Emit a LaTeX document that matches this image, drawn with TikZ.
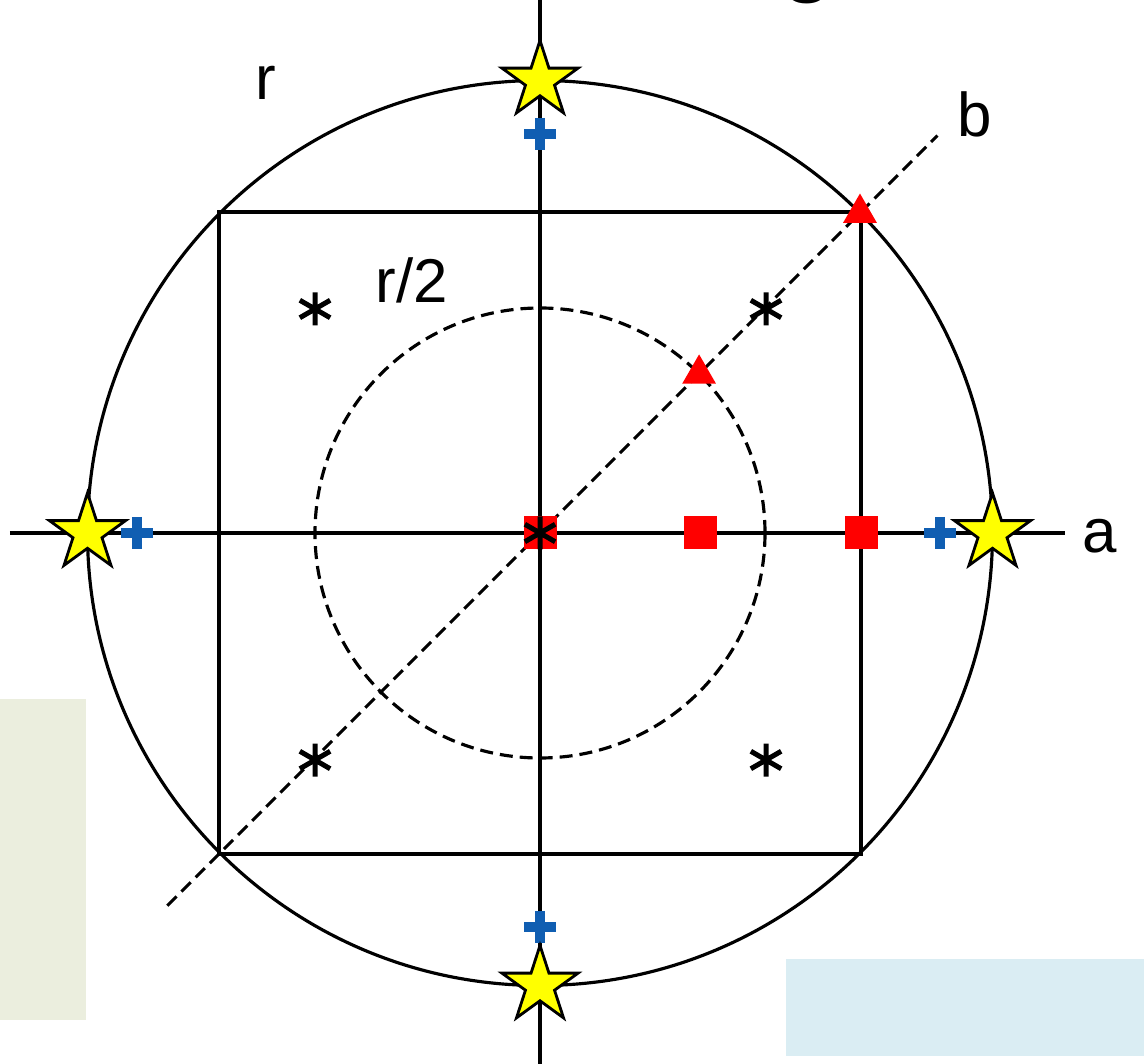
\documentclass[tikz,border=0pt]{standalone}
\usepackage{fontspec}
\setmainfont{Liberation Sans}
\usetikzlibrary{shapes.geometric}
\definecolor{markred}{RGB}{255,0,0}
\definecolor{plusblue}{RGB}{16,94,178}
\definecolor{staryellow}{RGB}{255,255,0}
\definecolor{panelgreen}{RGB}{235,238,222}
\definecolor{panelblue}{RGB}{218,237,243}
\tikzset{
  lbl/.style={font=\fontsize{17.6}{20}\selectfont, anchor=base, inner sep=0pt},
  starmark/.style={star, star points=5, star point ratio=2.62, minimum size=0.8cm,
    inner sep=0pt, fill=staryellow, draw=black, line width=0.8pt},
  sqmark/.style={rectangle, fill=markred, minimum size=0.33cm, inner sep=0pt},
  trimark/.style={regular polygon, regular polygon sides=3, fill=markred,
    minimum size=0.39cm, inner sep=0pt},
  plusmark/.style={rectangle, minimum size=0.32cm, inner sep=0pt, path picture={
    \draw[plusblue, line width=0.1cm]
      (path picture bounding box.west) -- (path picture bounding box.east)
      (path picture bounding box.north) -- (path picture bounding box.south);}},
  astmark/.style={rectangle, minimum size=0.42cm, inner sep=0pt, path picture={
    \draw[black, line width=0.05cm]
      (path picture bounding box.center) ++(90:0.165) -- ++(270:0.33)
      (path picture bounding box.center) ++(30:0.175) -- ++(210:0.35)
      (path picture bounding box.center) ++(150:0.175) -- ++(330:0.35);}},
  dashline/.style={dash pattern=on 0.13cm off 0.07cm, line width=0.9pt}
}
\begin{document}
\begin{tikzpicture}[line width=0.9pt]
    \useasboundingbox (-5.40,-5.30) rectangle (6.04,5.33);

    % Hintergrundflaechen
    \fill[panelgreen] (-5.40,-1.66) rectangle (-4.54,-4.87);
    \fill[panelblue] (2.46,-4.26) rectangle (6.04,-5.23);

    % Koordinaten
    \coordinate (O) at (0,0);
    \coordinate (aW) at (-5.30,0);
    \coordinate (aE) at (5.25,0);
    \coordinate (vN) at (0,5.50);
    \coordinate (vS) at (0,-5.50);
    \coordinate (bSW) at (-135:5.27);
    \coordinate (bNE) at (45:5.62);

    % Kreise und Quadrat
    \draw (O) circle (4.525);
    \draw[dashline] (O) circle (2.25);
    \draw (-3.21,-3.21) rectangle (3.21,3.21);

    % Achsen
    \draw (aW) -- (aE);
    \draw (vN) -- (vS);
    \draw[dashline] (bSW) -- (bNE);

    % Beschriftung
    \node[lbl] (lblr) at (-2.74,4.33) {r};
    \node[lbl] (lblhalf) at (-1.28,2.30) {r/2};
    \node[lbl] (lblb) at (4.35,3.96) {b};
    \node[lbl] (lbla) at (5.60,-0.20) {a};
    \node[anchor=base, inner sep=0pt, font=\fontsize{28}{30}\selectfont] (lblg) at (2.68,5.49) {g};

    % Quadrate auf der a-Achse
    \node[sqmark] (sqO) at (O) {};
    \node[sqmark] (sqHalf) at (1.60,0) {};
    \node[sqmark] (sqFull) at (3.21,0) {};

    % Dreiecke auf der b-Achse
    \node[trimark] (triHalf) at (45:2.25) {};
    \node[trimark] (triFull) at (45:4.525) {};

    % Sternchen
    \node[astmark] (astO) at (O) {};
    \node[astmark] (astNW) at (-2.25,2.24) {};
    \node[astmark] (astNE) at (2.26,2.24) {};
    \node[astmark] (astSW) at (-2.25,-2.27) {};
    \node[astmark] (astSE) at (2.26,-2.27) {};

    % Kreuze
    \node[plusmark] (plusN) at (0,3.99) {};
    \node[plusmark] (plusS) at (0,-3.94) {};
    \node[plusmark] (plusW) at (-4.03,0) {};
    \node[plusmark] (plusE) at (4.00,0) {};

    % Sterne auf dem Kreis
    \node[starmark] (starN) at (90:4.525) {};
    \node[starmark] (starS) at (270:4.525) {};
    \node[starmark] (starW) at (180:4.525) {};
    \node[starmark] (starE) at (0:4.525) {};
\end{tikzpicture}
\end{document}
